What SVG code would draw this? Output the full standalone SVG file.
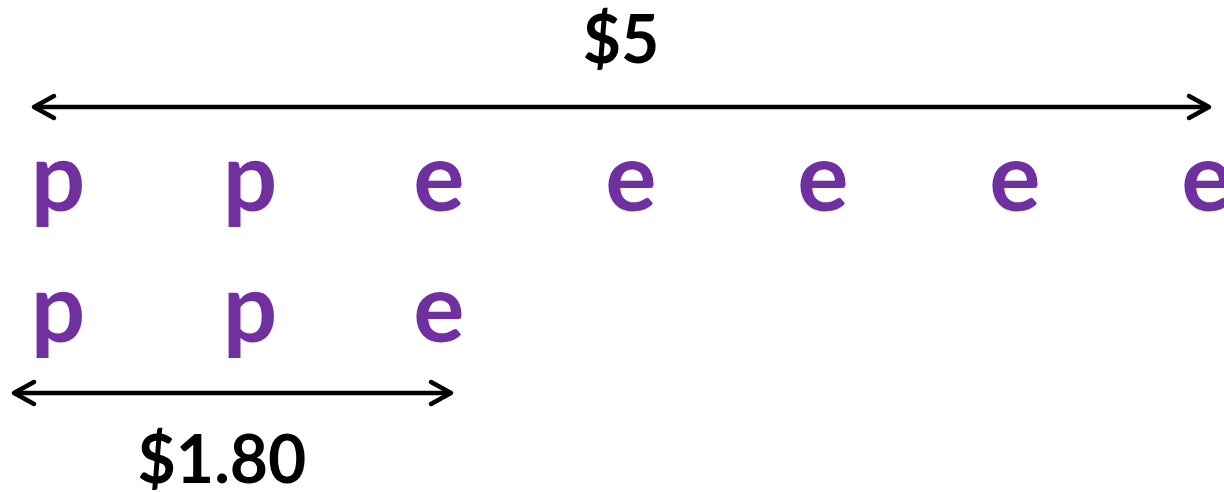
<svg xmlns="http://www.w3.org/2000/svg" width="1224" height="492" viewBox="0 0 1224 492">
  <style>
    .letter { font-family: Lato, "Open Sans", sans-serif; font-weight: bold; font-size: 96px; fill: #7030A0; text-anchor: middle; }
    .price { font-family: Lato, "Open Sans", sans-serif; font-weight: bold; font-size: 66px; fill: #000000; text-anchor: middle; }
    .span { stroke: #000000; stroke-width: 4.5; fill: none; stroke-linecap: round; stroke-linejoin: round; }
  </style>
  <rect width="1224" height="492" fill="#ffffff"/>

  <!-- dimension arrows -->
  <g id="connectors">
    <g id="span-total">
      <line class="span" x1="35" y1="107" x2="1208" y2="107"/>
      <polyline class="span" points="54,96 34,107 54,118"/>
      <polyline class="span" points="1189,96 1209,107 1189,118"/>
    </g>
    <g id="span-part">
      <line class="span" x1="15" y1="393" x2="450" y2="393"/>
      <polyline class="span" points="34,382 14,393 34,404"/>
      <polyline class="span" points="431,382 451,393 431,404"/>
    </g>
  </g>

  <g id="label-total"><text class="price" x="621" y="63">$5</text></g>
  <g id="label-part"><text class="price" x="222" y="483">$1.80</text></g>

  <!-- full sequence -->
  <g id="row-full">
    <text class="letter" x="58" y="211">p</text>
    <text class="letter" x="250" y="211">p</text>
    <text class="letter" x="439" y="211">e</text>
    <text class="letter" x="631" y="211">e</text>
    <text class="letter" x="823" y="211">e</text>
    <text class="letter" x="1015" y="211">e</text>
    <text class="letter" x="1207" y="211">e</text>
  </g>

  <!-- partial sequence -->
  <g id="row-part">
    <text class="letter" x="58" y="342">p</text>
    <text class="letter" x="250" y="342">p</text>
    <text class="letter" x="439" y="342">e</text>
  </g>
</svg>
